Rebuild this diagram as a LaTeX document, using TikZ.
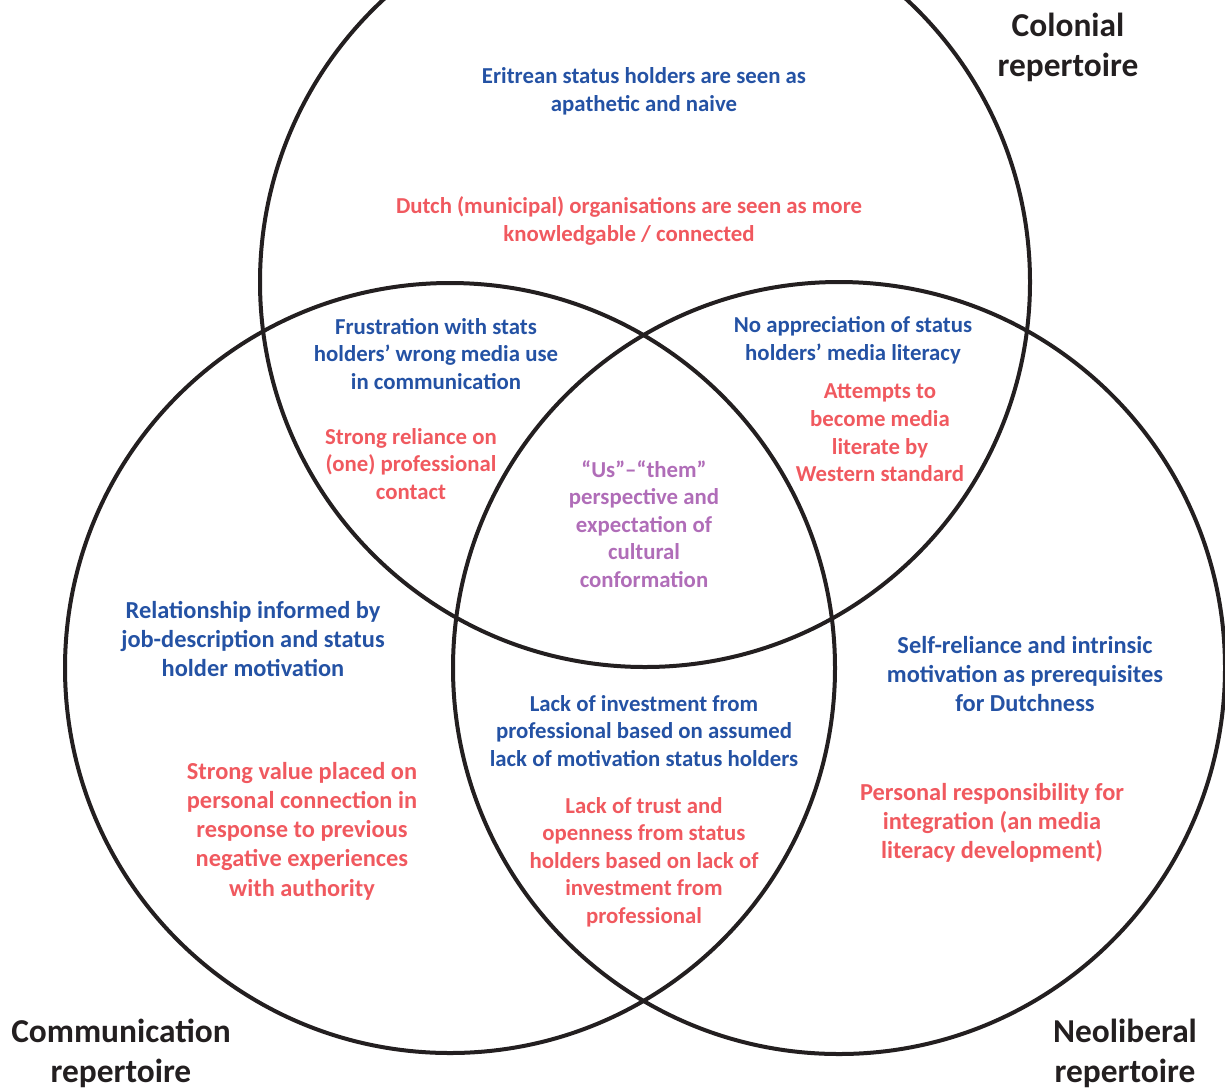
\documentclass[tikz,border=0pt]{standalone}
\usepackage{fontspec}
\setmainfont{Carlito}
\usetikzlibrary{
    positioning       % For placing nodes relative to each other
}
\definecolor{theme_blue}{HTML}{2452A4}
\definecolor{theme_red}{HTML}{F0595F}
\definecolor{theme_purple}{HTML}{B06DB8}
\definecolor{theme_black}{HTML}{231F20}

\begin{document}
\begin{tikzpicture}[
    x=0.5pt, y=-0.5pt,
    % Style for the three repertoire circles
    ring_style/.style={
        draw=theme_black,
        line width=2pt
    },
    % Style for all text blocks inside the circles
    text_style/.style={
        font=\bfseries\fontsize{11.4}{13.8}\selectfont,
        align=center,
        inner sep=0pt
    },
    % Slightly larger, looser text for the outer blocks
    loose_text/.style={
        font=\bfseries\fontsize{12.2}{14.6}\selectfont
    },
    blue_text/.style={text_style, text=theme_blue},
    red_text/.style={text_style, text=theme_red},
    purple_text/.style={text_style, text=theme_purple},
    % Style for the repertoire names
    title_style/.style={
        font=\bfseries\fontsize{16.7}{20}\selectfont,
        align=center,
        text=theme_black,
        inner sep=0pt
    }
]
    \useasboundingbox (0,0) rectangle (1225,1088);

    % 1. The three circles.
    \coordinate (colonial_c) at (645,282);
    \coordinate (communication_c) at (450,668);
    \coordinate (neoliberal_c) at (839,668);
    \draw[ring_style] (colonial_c) circle[radius=385];
    \draw[ring_style] (communication_c) circle[radius=385];
    \draw[ring_style] (neoliberal_c) circle[radius=386];

    % 2. Colonial repertoire only.
    \node[blue_text] (apathetic) at (644,91) {Eritrean status holders are seen as\\apathetic and naive};
    \node[red_text] (dutch_orgs) at (629,221) {Dutch (municipal) organisations are seen as more\\knowledgable / connected};

    % 3. Colonial and communication overlap.
    \node[blue_text] (frustration) at (436,354) {Frustration with stats\\holders’ wrong media use\\in communication};
    \node[red_text] (reliance) at (411,464) {Strong reliance on\\(one) professional\\contact};

    % 4. Colonial and neoliberal overlap.
    \node[blue_text] (appreciation) at (853,340) {No appreciation of status\\holders’ media literacy};
    \node[red_text] (attempts) at (880,433) {Attempts to\\become media\\literate by\\Western standard};

    % 5. Centre of all three.
    \node[purple_text] (us_them) at (644,524) {“Us”–“them”\\perspective and\\expectation of\\cultural\\conformation};

    % 6. Communication repertoire only.
    \node[blue_text, loose_text] (relationship) at (253,639) {Relationship informed by\\job-description and status\\holder motivation};
    \node[red_text, loose_text] (personal_value) at (302,831) {Strong value placed on\\personal connection in\\response to previous\\negative experiences\\with authority};

    % 7. Communication and neoliberal overlap.
    \node[blue_text] (investment) at (644,731) {Lack of investment from\\professional based on assumed\\lack of motivation status holders};
    \node[red_text] (trust) at (644,862) {Lack of trust and\\openness from status\\holders based on lack of\\investment from\\professional};

    % 8. Neoliberal repertoire only.
    \node[blue_text, loose_text] (self_reliance) at (1025,674) {Self-reliance and intrinsic\\motivation as prerequisites\\for Dutchness};
    \node[red_text, loose_text] (responsibility) at (992,823) {Personal responsibility for\\integration (an media\\literacy development)};

    % 9. Repertoire names.
    \node[title_style] (colonial_title) at (1068,47) {Colonial\\repertoire};
    \node[title_style] (communication_title) at (121,1053) {Communication\\repertoire};
    \node[title_style] (neoliberal_title) at (1125,1053) {Neoliberal\\repertoire};

\end{tikzpicture}
\end{document}
